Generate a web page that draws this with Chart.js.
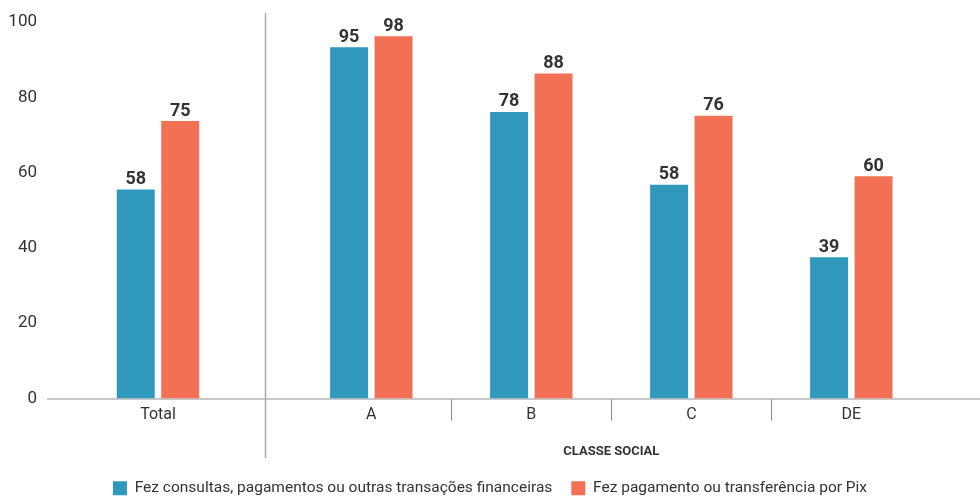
<!DOCTYPE html>
<html>
<head>
<meta charset="utf-8">
<script src="https://cdn.jsdelivr.net/npm/chart.js@4"></script>
<style>
  html, body { margin: 0; padding: 0; background: #fff; overflow: hidden; }
  #wrap { width: 980px; height: 496px; position: relative; }
</style>
</head>
<body>
<div id="wrap"><canvas id="c"></canvas></div>
<script>
// ---- data ----
const categories = ['Total', 'A', 'B', 'C', 'DE'];
const seriesNames = ['Fez consultas, pagamentos ou outras transações financeiras', 'Fez pagamento ou transferência por Pix'];
const consultasValues = [55.5, 93.3, 76.1, 56.8, 37.5];
const pixValues = [73.7, 96.2, 86.3, 75.1, 59.0];
const consultasLabels = ['58', '95', '78', '58', '39'];
const pixLabels = ['75', '98', '88', '76', '60'];
const yTicks = [0, 20, 40, 60, 80, 100];
const groupTitle = 'CLASSE SOCIAL';

// ---- layout helpers (category index -> linear x position) ----
const GROUP_SHIFT = 1 / 3;
const xPos = categories.map((c, i) => i === 0 ? 0 : i + GROUP_SHIFT);
const SEPARATOR_X = 0.669;

const FONT = 'Roboto, "Liberation Sans", sans-serif';
const BLUE = '#2f98bb';
const ORANGE = '#f27053';
const TEXT = '#333333';

const decorPlugin = {
  id: 'decor',
  afterDraw(chart) {
    const ctx = chart.ctx;
    const xs = chart.scales.x;
    const area = chart.chartArea;
    ctx.save();
    // separator
    const sx = Math.round(xs.getPixelForValue(SEPARATOR_X)) + 0.5;
    ctx.strokeStyle = '#aaaaaa';
    ctx.lineWidth = 1.5;
    ctx.beginPath();
    ctx.moveTo(sx, 13);
    ctx.lineTo(sx, 458);
    ctx.stroke();
    // tick marks between social classes
    ctx.strokeStyle = '#8a8a8a';
    ctx.lineWidth = 1;
    for (let i = 1; i < xPos.length - 1; i++) {
      const tx = Math.round(xs.getPixelForValue((xPos[i] + xPos[i + 1]) / 2)) + 0.5;
      ctx.beginPath();
      ctx.moveTo(tx, area.bottom + 1);
      ctx.lineTo(tx, area.bottom + 22);
      ctx.stroke();
    }
    // group title
    const gx = (xs.getPixelForValue(xPos[1]) + xs.getPixelForValue(xPos[xPos.length - 1])) / 2;
    ctx.fillStyle = TEXT;
    ctx.font = 'bold 13px ' + FONT;
    ctx.textAlign = 'center';
    ctx.textBaseline = 'middle';
    ctx.fillText(groupTitle, gx, 452);
    // value labels
    ctx.font = 'bold 18px ' + FONT;
    ctx.textBaseline = 'bottom';
    const labelSets = [consultasLabels, pixLabels];
    chart.data.datasets.forEach((ds, di) => {
      const meta = chart.getDatasetMeta(di);
      meta.data.forEach((bar, i) => {
        ctx.fillText(labelSets[di][i], bar.x, bar.y - 1);
      });
    });
    ctx.restore();
  }
};

new Chart(document.getElementById('c'), {
  type: 'bar',
  data: {
    datasets: [
      {
        label: seriesNames[0],
        data: consultasValues.map((v, i) => ({ x: xPos[i], y: v })),
        backgroundColor: BLUE,
        categoryPercentage: 0.556,
        barPercentage: 0.854
      },
      {
        label: seriesNames[1],
        data: pixValues.map((v, i) => ({ x: xPos[i], y: v })),
        backgroundColor: ORANGE,
        categoryPercentage: 0.556,
        barPercentage: 0.854
      }
    ]
  },
  options: {
    responsive: true,
    maintainAspectRatio: false,
    animation: false,
    layout: { padding: { top: 22, right: 0, left: 0, bottom: -10 } },
    plugins: {
      legend: {
        position: 'bottom',
        labels: {
          boxWidth: 14,
          boxHeight: 14,
          padding: 19,
          color: TEXT,
          font: { family: FONT, size: 15.5 }
        }
      },
      tooltip: { enabled: false }
    },
    scales: {
      x: {
        type: 'linear',
        offset: false,
        min: -0.6875,
        max: 5.1375,
        grid: { display: false, drawTicks: false, offset: false },
        border: { display: true, color: '#c8c8c8', width: 2 },
        afterBuildTicks(scale) {
          scale.ticks = xPos.map(v => ({ value: v }));
        },
        afterFit(scale) { scale.height = 63; },
        ticks: {
          autoSkip: false,
          maxRotation: 0,
          padding: 7,
          color: TEXT,
          font: { family: FONT, size: 16 },
          callback: (v, i) => categories[i]
        }
      },
      y: {
        min: 0,
        max: 100,
        grid: { display: false, drawTicks: false },
        border: { display: false },
        afterBuildTicks(scale) {
          scale.ticks = yTicks.map(v => ({ value: v }));
        },
        afterFit(scale) { scale.width = 48; },
        ticks: {
          padding: 11,
          color: TEXT,
          font: { family: FONT, size: 17 }
        }
      }
    }
  },
  plugins: [decorPlugin]
});
</script>
</body>
</html>
